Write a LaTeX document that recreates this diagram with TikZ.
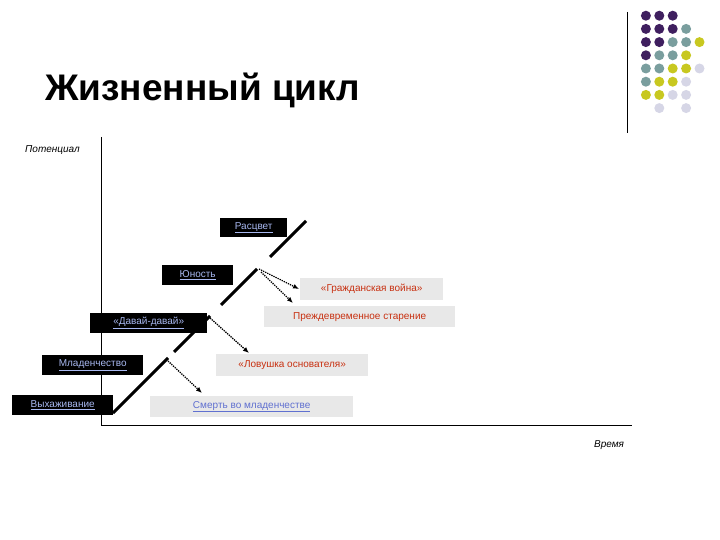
\documentclass[tikz,border=0pt]{standalone}
\usepackage{fontspec}
\setmainfont{Liberation Sans}
\usetikzlibrary{arrows.meta}
\definecolor{pp}{HTML}{3F1F5F}
\definecolor{tl}{HTML}{7A9E9E}
\definecolor{yl}{HTML}{C8C820}
\definecolor{lg}{HTML}{D6D6E6}
\definecolor{lnk}{HTML}{A8B8F0}
\definecolor{lnkd}{HTML}{6070D0}
\definecolor{rd}{HTML}{C83010}
\definecolor{gb}{HTML}{E8E8E8}
\tikzset{
 stage/.style={fill=black,text=lnk,font=\fontsize{10}{11}\selectfont,inner sep=0pt,anchor=north west},
 trap/.style={fill=gb,text=rd,font=\fontsize{10}{11}\selectfont,inner sep=0pt,anchor=north west},
 curve/.style={line width=3pt},
 fall/.style={densely dotted,line width=1.3pt,-{Latex[length=6pt,width=5pt]}},
 dot/.style={circle,inner sep=0pt,minimum size=10pt}
}
\newcommand{\ul}[1]{\underline{#1}}
\begin{document}
\begin{tikzpicture}[x=1pt,y=-1pt]
\useasboundingbox (0,0) rectangle (720,540);
\node[anchor=base west,inner sep=0pt,font=\fontsize{37}{40}\selectfont\bfseries] (title) at (45,101) {Жизненный цикл};
\draw[line width=1pt] (627,12) -- (627,133);
\foreach \r/\cols in {1/{pp,pp,pp},2/{pp,pp,pp,tl},3/{pp,pp,tl,tl,yl},4/{pp,tl,tl,yl},5/{tl,tl,yl,yl,lg},6/{tl,yl,yl,lg},7/{yl,yl,lg,lg},8/{white,lg,white,lg}}{
 \foreach \c [count=\i] in \cols {
  \node[dot,fill=\c] (d\r\i) at ({632.5+13.4*\i},{2.5+13.2*\r}) {};
 }
}
\node[anchor=base west,inner sep=0pt,font=\fontsize{10}{11}\selectfont\itshape] (pot) at (25,153) {Потенциал};
\node[anchor=base west,inner sep=0pt,font=\fontsize{10}{11}\selectfont\itshape] (time) at (594,447) {Время};
\coordinate (o) at (101,425);
\coordinate (top) at (101,137);
\coordinate (right) at (632,425);
\draw[line width=0.8pt] (top) -- (o) -- (right);
\node[stage,minimum width=67pt,minimum height=19pt] (s5) at (220,218) {\ul{Расцвет}};
\node[stage,minimum width=71pt,minimum height=20pt] (s4) at (162,265) {\ul{Юность}};
\node[stage,minimum width=117pt,minimum height=20pt] (s3) at (90,313) {\ul{«Давай-давай»}};
\node[stage,minimum width=101pt,minimum height=20pt] (s2) at (42,355) {\ul{Младенчество}};
\node[stage,minimum width=101pt,minimum height=20pt] (s1) at (12,395) {\ul{Выхаживание}};
\node[trap,minimum width=143pt,minimum height=22pt] (t4) at (300,278) {«Гражданская война»};
\node[trap,minimum width=191pt,minimum height=21pt] (t3) at (264,306) {Преждевременное старение};
\node[trap,minimum width=152pt,minimum height=22pt] (t2) at (216,354) {«Ловушка основателя»};
\node[trap,text=lnkd,minimum width=203pt,minimum height=21pt] (t1) at (150,396) {\ul{Смерть во младенчестве}};
\coordinate (a1) at (113,413); \coordinate (b1) at (168,358);
\coordinate (a2) at (174,352); \coordinate (b2) at (210,316);
\coordinate (a3) at (221,305); \coordinate (b3) at (257,269);
\coordinate (a4) at (270,257); \coordinate (b4) at (306,221);
\draw[curve] (a1) -- (b1); \draw[curve] (a2) -- (b2);
\draw[curve] (a3) -- (b3); \draw[curve] (a4) -- (b4);
\coordinate (e1) at (202,393); \coordinate (e2) at (249,353);
\coordinate (e3) at (299,289); \coordinate (e4) at (293,303);
\draw[fall] (168,361) -- (e1);
\draw[fall] (210,318) -- (e2);
\draw[fall] (259,269) -- (e3);
\draw[fall] (261,272) -- (e4);
\end{tikzpicture}
\end{document}
